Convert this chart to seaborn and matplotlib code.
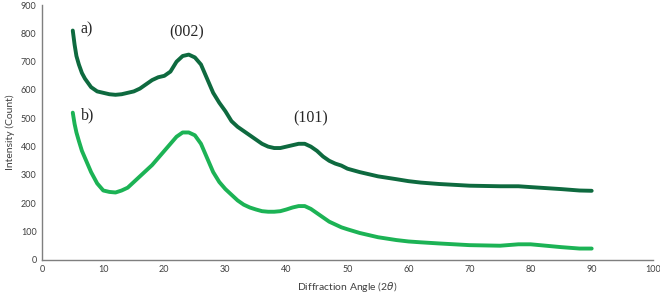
import numpy as np
import pandas as pd
import matplotlib
matplotlib.use("Agg")
import matplotlib.pyplot as plt
import seaborn as sns

angle = [5, 5.3, 5.6, 6, 6.5, 7, 8, 9, 10, 11, 12, 13, 14, 15, 16, 17, 18, 19, 20,
         21, 22, 23, 24, 25, 26, 27, 28, 29, 30, 31, 32, 33, 34, 35, 36, 37, 38,
         39, 40, 41, 42, 43, 44, 45, 46, 47, 48, 49, 50, 52, 55, 58, 60, 62, 65,
         70, 75, 78, 80, 85, 88, 90]

# sample a)
count_a = [810, 760, 720, 690, 660, 640, 610, 595, 590, 585, 583, 585, 590, 595, 605,
           620, 635, 645, 650, 665, 700, 720, 725, 715, 690, 640, 590, 555, 525, 490,
           470, 455, 440, 425, 410, 400, 395, 395, 400, 405, 410, 410, 400, 385, 365,
           350, 340, 333, 322, 310, 295, 285, 278, 273, 268, 262, 260, 260, 257, 250,
           245, 244]

# sample b)
count_b = [520, 480, 450, 420, 385, 360, 310, 270, 245, 240, 238, 245, 255, 275, 295,
           315, 335, 360, 385, 410, 435, 450, 450, 440, 410, 360, 310, 275, 250, 230,
           210, 195, 185, 178, 172, 170, 170, 172, 178, 185, 190, 190, 180, 165, 150,
           135, 125, 115, 108, 95, 80, 70, 65, 62, 58, 52, 50, 55, 55, 45, 40, 40]

df = pd.DataFrame({"angle": angle + angle,
                   "count": count_a + count_b,
                   "sample": ["a"] * len(angle) + ["b"] * len(angle)})

sns.set_style("white")
plt.rcParams["font.family"] = ["Lato", "DejaVu Sans"]

fig = plt.figure(figsize=(6.6, 2.97), dpi=100)
ax = fig.add_axes([0.064, 0.125, 0.925, 0.858])

sns.lineplot(data=df, x="angle", y="count", hue="sample",
             palette={"a": "#0e6a3f", "b": "#1cb355"},
             linewidth=2.8, legend=False, ax=ax)

ax.set_xlim(0, 100)
ax.set_ylim(0, 900)
ax.set_xticks(range(0, 101, 10))
ax.set_yticks(range(0, 901, 100))
ax.tick_params(length=0, labelsize=6.5, labelcolor="#404040", pad=4)
ax.set_xlabel(r"Diffraction Angle (2$\theta$)", fontsize=7.5, color="#404040")
ax.set_ylabel("Intensity (Count)", fontsize=7.5, color="#404040")

for s in ["top", "right"]:
    ax.spines[s].set_visible(False)
for s in ["left", "bottom"]:
    ax.spines[s].set_color("#7f7f7f")
    ax.spines[s].set_linewidth(1)

serif = ["Liberation Serif", "DejaVu Serif"]
ax.text(6.3, 815, "a)", fontsize=11.5, family=serif, va="center")
ax.text(6.3, 510, "b)", fontsize=11.5, family=serif, va="center")
ax.text(23.7, 805, "(002)", fontsize=11.5, family=serif, va="center", ha="center")
ax.text(44, 498, "(101)", fontsize=11.5, family=serif, va="center", ha="center")

fig.savefig("out.png", dpi=100)
